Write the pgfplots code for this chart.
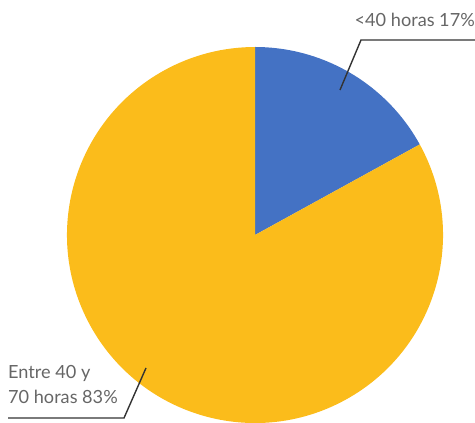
\documentclass[border=0pt]{standalone}
\usepackage{pgfplots}
\pgfplotsset{compat=1.18}
\usepackage{fontspec}
\setmainfont{Lato}
\definecolor{pieblue}{HTML}{4472C4}
\definecolor{pieyellow}{HTML}{FBBC1B}
\definecolor{labelgray}{HTML}{666666}
\definecolor{leader}{HTML}{333333}

% pie shares (percent)
\def\shareA{17}
\def\shareB{83}

\begin{document}
\begin{tikzpicture}
\begin{axis}[
  width=475bp, height=423bp, scale only axis,
  xmin=0, xmax=475, ymin=0, ymax=423,
  hide axis, clip=false,
]
% sectors, clockwise from 12 o'clock
\fill[pieblue] (axis cs:255,188) -- ++(90:188bp)
  arc[start angle=90, end angle={90-\shareA*3.6}, radius=188bp] -- cycle;
\fill[pieyellow] (axis cs:255,188) -- ++({90-\shareA*3.6}:188bp)
  arc[start angle={90-\shareA*3.6}, end angle={90-(\shareA+\shareB)*3.6}, radius=188bp] -- cycle;
% leader lines
\draw[leader, line width=1.4bp] (axis cs:340,333) -- (axis cs:361,383) -- (axis cs:475,383);
\draw[leader, line width=1.4bp] (axis cs:146,55) -- (axis cs:124,5) -- (axis cs:8,5);
% labels
\node[anchor=base east, text=labelgray, font=\fontsize{18.2}{21}\selectfont, inner sep=0pt]
  at (axis cs:475,396) {<40 horas 17\%};
\node[anchor=base west, text=labelgray, font=\fontsize{18.2}{21}\selectfont, inner sep=0pt]
  at (axis cs:8,44) {Entre 40 y};
\node[anchor=base west, text=labelgray, font=\fontsize{18.2}{21}\selectfont, inner sep=0pt]
  at (axis cs:8,20) {70 horas 83\%};
\end{axis}
\pgfresetboundingbox
\path[use as bounding box] (current axis.south west) rectangle (current axis.north east);
\end{tikzpicture}
\end{document}
